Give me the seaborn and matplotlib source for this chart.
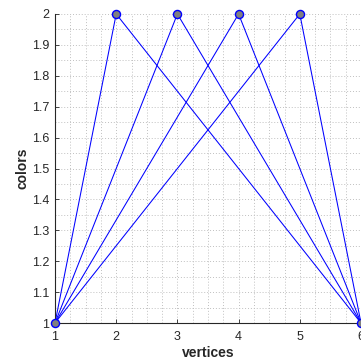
import matplotlib
matplotlib.use("Agg")
import matplotlib.pyplot as plt
from matplotlib.ticker import MultipleLocator, FormatStrFormatter
import seaborn as sns
import pandas as pd

vertices = [1, 2, 3, 4, 5, 6]
colors = [1, 2, 2, 2, 2, 1]
edge_src = [1, 1, 1, 1, 2, 3, 4, 5]
edge_dst = [2, 3, 4, 5, 6, 6, 6, 6]
x_ticks = [1, 2, 3, 4, 5, 6]
y_ticks = [1.0, 1.1, 1.2, 1.3, 1.4, 1.5, 1.6, 1.7, 1.8, 1.9, 2.0]

sns.set_theme(style="white")
plt.rcParams['font.family'] = ['Liberation Sans', 'DejaVu Sans']

rows = []
for k, (a, b) in enumerate(zip(edge_src, edge_dst)):
    rows.append({"edge": k, "x": vertices[a - 1], "y": colors[a - 1]})
    rows.append({"edge": k, "x": vertices[b - 1], "y": colors[b - 1]})
edges_df = pd.DataFrame(rows)
nodes_df = pd.DataFrame({"x": vertices, "y": colors})

fig = plt.figure(figsize=(3.61, 3.63), dpi=100)
W, H = 361, 363
ax = fig.add_axes([55 / W, 40 / H, (361 - 55) / W, 309 / H])

sns.lineplot(data=edges_df, x="x", y="y", units="edge", estimator=None,
             color="#0000ff", linewidth=0.75, ax=ax, sort=False, clip_on=False)
sns.scatterplot(data=nodes_df, x="x", y="y", s=34, color="#808080",
                edgecolor="#0000ff", linewidth=1.0, ax=ax, zorder=5, clip_on=False)

ax.set_xlim(1, 6)
ax.set_ylim(1, 2)
ax.set_xticks(x_ticks)
ax.set_yticks(y_ticks)
ax.yaxis.set_major_formatter(FormatStrFormatter('%g'))
ax.xaxis.set_minor_locator(MultipleLocator(0.25))
ax.yaxis.set_minor_locator(MultipleLocator(0.05))
ax.grid(True, which='both', linestyle=(0, (1, 2)), color='#c0c0c0', linewidth=0.7)
ax.set_axisbelow(True)

for s in ['top', 'right']:
    ax.spines[s].set_visible(False)
for s in ['left', 'bottom']:
    ax.spines[s].set_color('#262626')
    ax.spines[s].set_linewidth(0.8)

ax.tick_params(axis='both', which='major', direction='in', length=3, width=0.6,
               colors='#262626', labelsize=9, left=True, bottom=True)
ax.tick_params(axis='x', which='major', pad=6)
ax.tick_params(axis='y', which='major', pad=4)
ax.tick_params(axis='both', which='minor', length=0)

ax.set_xlabel("vertices", fontsize=10, fontweight='bold', color='#262626', labelpad=2)
ax.set_ylabel("colors", fontsize=10, fontweight='bold', color='#262626', labelpad=2)

fig.savefig("out.png", dpi=100)
